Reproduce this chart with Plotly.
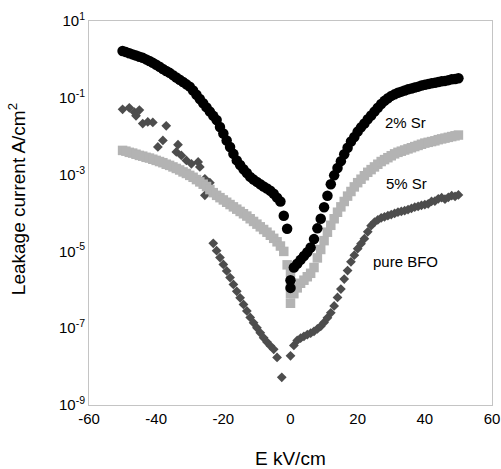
import plotly.graph_objects as go

# ---------------- data ----------------
# Electric field E (kV/cm) and log10 of leakage current density (A/cm^2)

E_2sr = [-50, -49, -48, -47, -46, -45, -44, -43, -42, -41,
         -40, -39, -38, -37, -36, -35, -34, -33, -32, -31,
         -30, -29, -28, -27, -26, -25, -24, -23, -22, -21,
         -20, -19, -18, -17, -16, -15, -14, -13, -12, -11,
         -10, -9, -8, -7, -6, -5, -4, -3, -2, -1,
         0, 0,
         1, 2, 3, 4, 5, 6, 7, 8, 9, 10,
         11, 12, 13, 14, 15, 16, 17, 18, 19, 20,
         21, 22, 23, 24, 25, 26, 27, 28, 29, 30,
         31, 32, 33, 34, 35, 36, 37, 38, 39, 40,
         41, 42, 43, 44, 45, 46, 47, 48, 49, 50]
logJ_2sr = [0.22, 0.19, 0.16, 0.13, 0.10, 0.07, 0.04, 0.00, -0.04, -0.09,
            -0.14, -0.19, -0.25, -0.30, -0.35, -0.41, -0.47, -0.53, -0.59, -0.65,
            -0.71, -0.81, -0.92, -1.03, -1.14, -1.25, -1.36, -1.47, -1.58, -1.76,
            -1.93, -2.11, -2.28, -2.46, -2.63, -2.75, -2.86, -2.96, -3.06, -3.13,
            -3.19, -3.25, -3.31, -3.36, -3.42, -3.50, -3.60, -3.70, -4.07, -4.41,
            -5.75, -5.95,
            -5.42, -5.32, -5.22, -5.12, -5.02, -4.90, -4.68, -4.40, -4.15, -3.85,
            -3.55, -3.25, -3.02, -2.83, -2.65, -2.47, -2.30, -2.14, -2.02, -1.88,
            -1.77, -1.67, -1.56, -1.46, -1.36, -1.26, -1.16, -1.08, -1.01, -0.95,
            -0.91, -0.87, -0.84, -0.81, -0.78, -0.76, -0.73, -0.71, -0.68, -0.66,
            -0.64, -0.62, -0.61, -0.59, -0.57, -0.56, -0.54, -0.52, -0.51, -0.49]

E_5sr = [-50, -49, -48, -47, -46, -45, -44, -43, -42, -41,
         -40, -39, -38, -37, -36, -35, -34, -33, -32, -31,
         -30, -29, -28, -27, -26, -25, -24, -23, -22, -21,
         -20, -19, -18, -17, -16, -15, -14, -13, -12, -11,
         -10, -9, -8, -7, -6, -5, -4, -3, -2, -1,
         0, 0, 0, 0,
         1, 2, 3, 4, 5, 6, 7, 8, 9, 10,
         11, 12, 13, 14, 15, 16, 17, 18, 19, 20,
         21, 22, 23, 24, 25, 26, 27, 28, 29, 30,
         31, 32, 33, 34, 35, 36, 37, 38, 39, 40,
         41, 42, 43, 44, 45, 46, 47, 48, 49, 50]
logJ_5sr = [-2.37, -2.39, -2.42, -2.44, -2.47, -2.50, -2.52, -2.55, -2.57, -2.60,
            -2.63, -2.66, -2.69, -2.73, -2.76, -2.80, -2.84, -2.88, -2.93, -2.97,
            -3.02, -3.07, -3.13, -3.19, -3.25, -3.31, -3.39, -3.47, -3.54, -3.60,
            -3.66, -3.72, -3.78, -3.84, -3.90, -3.96, -4.02, -4.08, -4.15, -4.22,
            -4.29, -4.36, -4.43, -4.50, -4.58, -4.66, -4.75, -4.86, -5.00, -5.35,
            -5.55, -5.85, -6.10, -6.35,
            -6.10, -5.95, -5.83, -5.75, -5.66, -5.57, -5.42, -5.17, -4.95, -4.72,
            -4.50, -4.32, -4.15, -3.98, -3.84, -3.70, -3.56, -3.44, -3.32, -3.21,
            -3.12, -3.03, -2.94, -2.87, -2.80, -2.73, -2.66, -2.61, -2.56, -2.51,
            -2.46, -2.42, -2.39, -2.36, -2.33, -2.30, -2.27, -2.24, -2.21, -2.18,
            -2.16, -2.14, -2.12, -2.09, -2.07, -2.05, -2.03, -2.01, -1.99, -1.97]

E_bfo = [-50, -48, -46.5, -45, -46, -44, -42.5, -41, -37, -38,
         -39.5, -33.5, -34, -32.5, -31, -29.5, -27.5, -27, -25.5, -24, -25.5,
         -23, -22, -21, -20, -19, -18, -17, -16, -15, -14,
         -13, -12, -11, -10, -9, -8, -7, -6, -5, -4, -2.6,
         0, 1, 2, 3, 4, 5, 6, 7, 8, 9, 10,
         11, 12, 13, 14, 15, 16, 17, 18, 19, 20,
         21, 22, 23, 24, 25, 26, 27, 28, 29, 30,
         31, 32, 33, 34, 35, 36, 37, 38, 39, 40,
         41, 42, 43, 44, 45, 46, 47, 48, 49, 50]
logJ_bfo = [-1.30, -1.26, -1.37, -1.32, -1.47, -1.67, -1.63, -1.64, -1.73, -2.11,
            -2.28, -2.22, -2.41, -2.50, -2.63, -2.72, -2.67, -2.80, -3.11, -3.21, -3.54,
            -4.79, -4.98, -5.16, -5.34, -5.51, -5.68, -5.86, -6.04, -6.21, -6.38,
            -6.55, -6.72, -6.86, -6.99, -7.12, -7.25, -7.36, -7.46, -7.55, -7.76, -8.28,
            -7.72, -7.45, -7.32, -7.26, -7.21, -7.17, -7.13, -7.08, -7.02, -6.95, -6.85,
            -6.73, -6.60, -6.42, -6.20, -5.98, -5.72, -5.50, -5.27, -5.10, -4.93,
            -4.80, -4.67, -4.49, -4.33, -4.24, -4.18, -4.13, -4.10, -4.07, -4.04,
            -4.01, -3.98, -3.96, -3.94, -3.91, -3.88, -3.85, -3.83, -3.80, -3.78,
            -3.76, -3.70, -3.69, -3.63, -3.60, -3.64, -3.59, -3.55, -3.57, -3.53]

y_tick_vals = [1e1, 1e-1, 1e-3, 1e-5, 1e-7, 1e-9]
y_tick_text = ["10<sup>1</sup>", "10<sup>-1</sup>", "10<sup>-3</sup>",
               "10<sup>-5</sup>", "10<sup>-7</sup>", "10<sup>-9</sup>"]
x_tick_vals = [-60, -40, -20, 0, 20, 40, 60]
x_tick_text = ["-60", "-40", "-20", "0", "20", "40", "60"]

labels = ["2% Sr", "5% Sr", "pure BFO"]
x_title = "E kV/cm"
y_title = "Leakage current A/cm<sup>2</sup>"

# ---------------- figure ----------------
J_2sr = [10 ** v for v in logJ_2sr]
J_5sr = [10 ** v for v in logJ_5sr]
J_bfo = [10 ** v for v in logJ_bfo]

FONT = "Liberation Sans, Arial, Helvetica, sans-serif"

fig = go.Figure()
fig.add_trace(go.Scatter(x=E_bfo, y=J_bfo, mode="markers", name=labels[2],
                         marker=dict(symbol="diamond", size=7.5, color="#4d4d4d",
                                     line=dict(width=0))))
fig.add_trace(go.Scatter(x=E_5sr, y=J_5sr, mode="markers", name=labels[1],
                         marker=dict(symbol="square", size=9.5, color="#b3b3b3",
                                     line=dict(width=0))))
fig.add_trace(go.Scatter(x=E_2sr, y=J_2sr, mode="markers", name=labels[0],
                         marker=dict(symbol="circle", size=10.5, color="#000000",
                                     line=dict(width=0))))

ann_font = dict(family=FONT, size=15, color="#000000")
fig.add_annotation(x=34.1, y=-1.64, text=labels[0], showarrow=False,
                   xref="x", yref="y", font=ann_font)
fig.add_annotation(x=34.5, y=-3.22, text=labels[1], showarrow=False,
                   xref="x", yref="y", font=ann_font)
fig.add_annotation(x=34.3, y=-5.27, text=labels[2], showarrow=False,
                   xref="x", yref="y", font=ann_font)
# axis titles
fig.add_annotation(x=0.5, y=-0.1406, xref="paper", yref="paper", text=x_title,
                   showarrow=False, xanchor="center", yanchor="middle",
                   font=dict(family=FONT, size=19, color="#000000"))
fig.add_annotation(x=-0.1787, y=0.536, xref="paper", yref="paper", text=y_title,
                   showarrow=False, xanchor="center", yanchor="middle",
                   textangle=-90,
                   font=dict(family=FONT, size=19, color="#000000"))

fig.update_layout(
    width=501, height=469,
    margin=dict(l=89, r=9, t=21, b=64, autoexpand=False),
    paper_bgcolor="white", plot_bgcolor="white",
    showlegend=False,
    font=dict(family=FONT, color="#000000"),
    xaxis=dict(range=[-60, 60], tickvals=x_tick_vals, ticktext=x_tick_text,
               showgrid=False, zeroline=False, showline=True,
               linecolor="#c4c4c4", linewidth=1, mirror=True, ticks="",
               tickfont=dict(size=15), automargin=False),
    yaxis=dict(type="log", range=[-9, 1], tickvals=y_tick_vals,
               ticktext=y_tick_text, showgrid=False, zeroline=False,
               showline=True, linecolor="#c4c4c4", linewidth=1, mirror=True,
               ticks="", tickfont=dict(size=15), automargin=False),
)

fig.write_html(
    "out.html",
    config={"displayModeBar": False},
    post_script="document.body.style.margin='0';document.body.style.overflow='hidden';",
)
